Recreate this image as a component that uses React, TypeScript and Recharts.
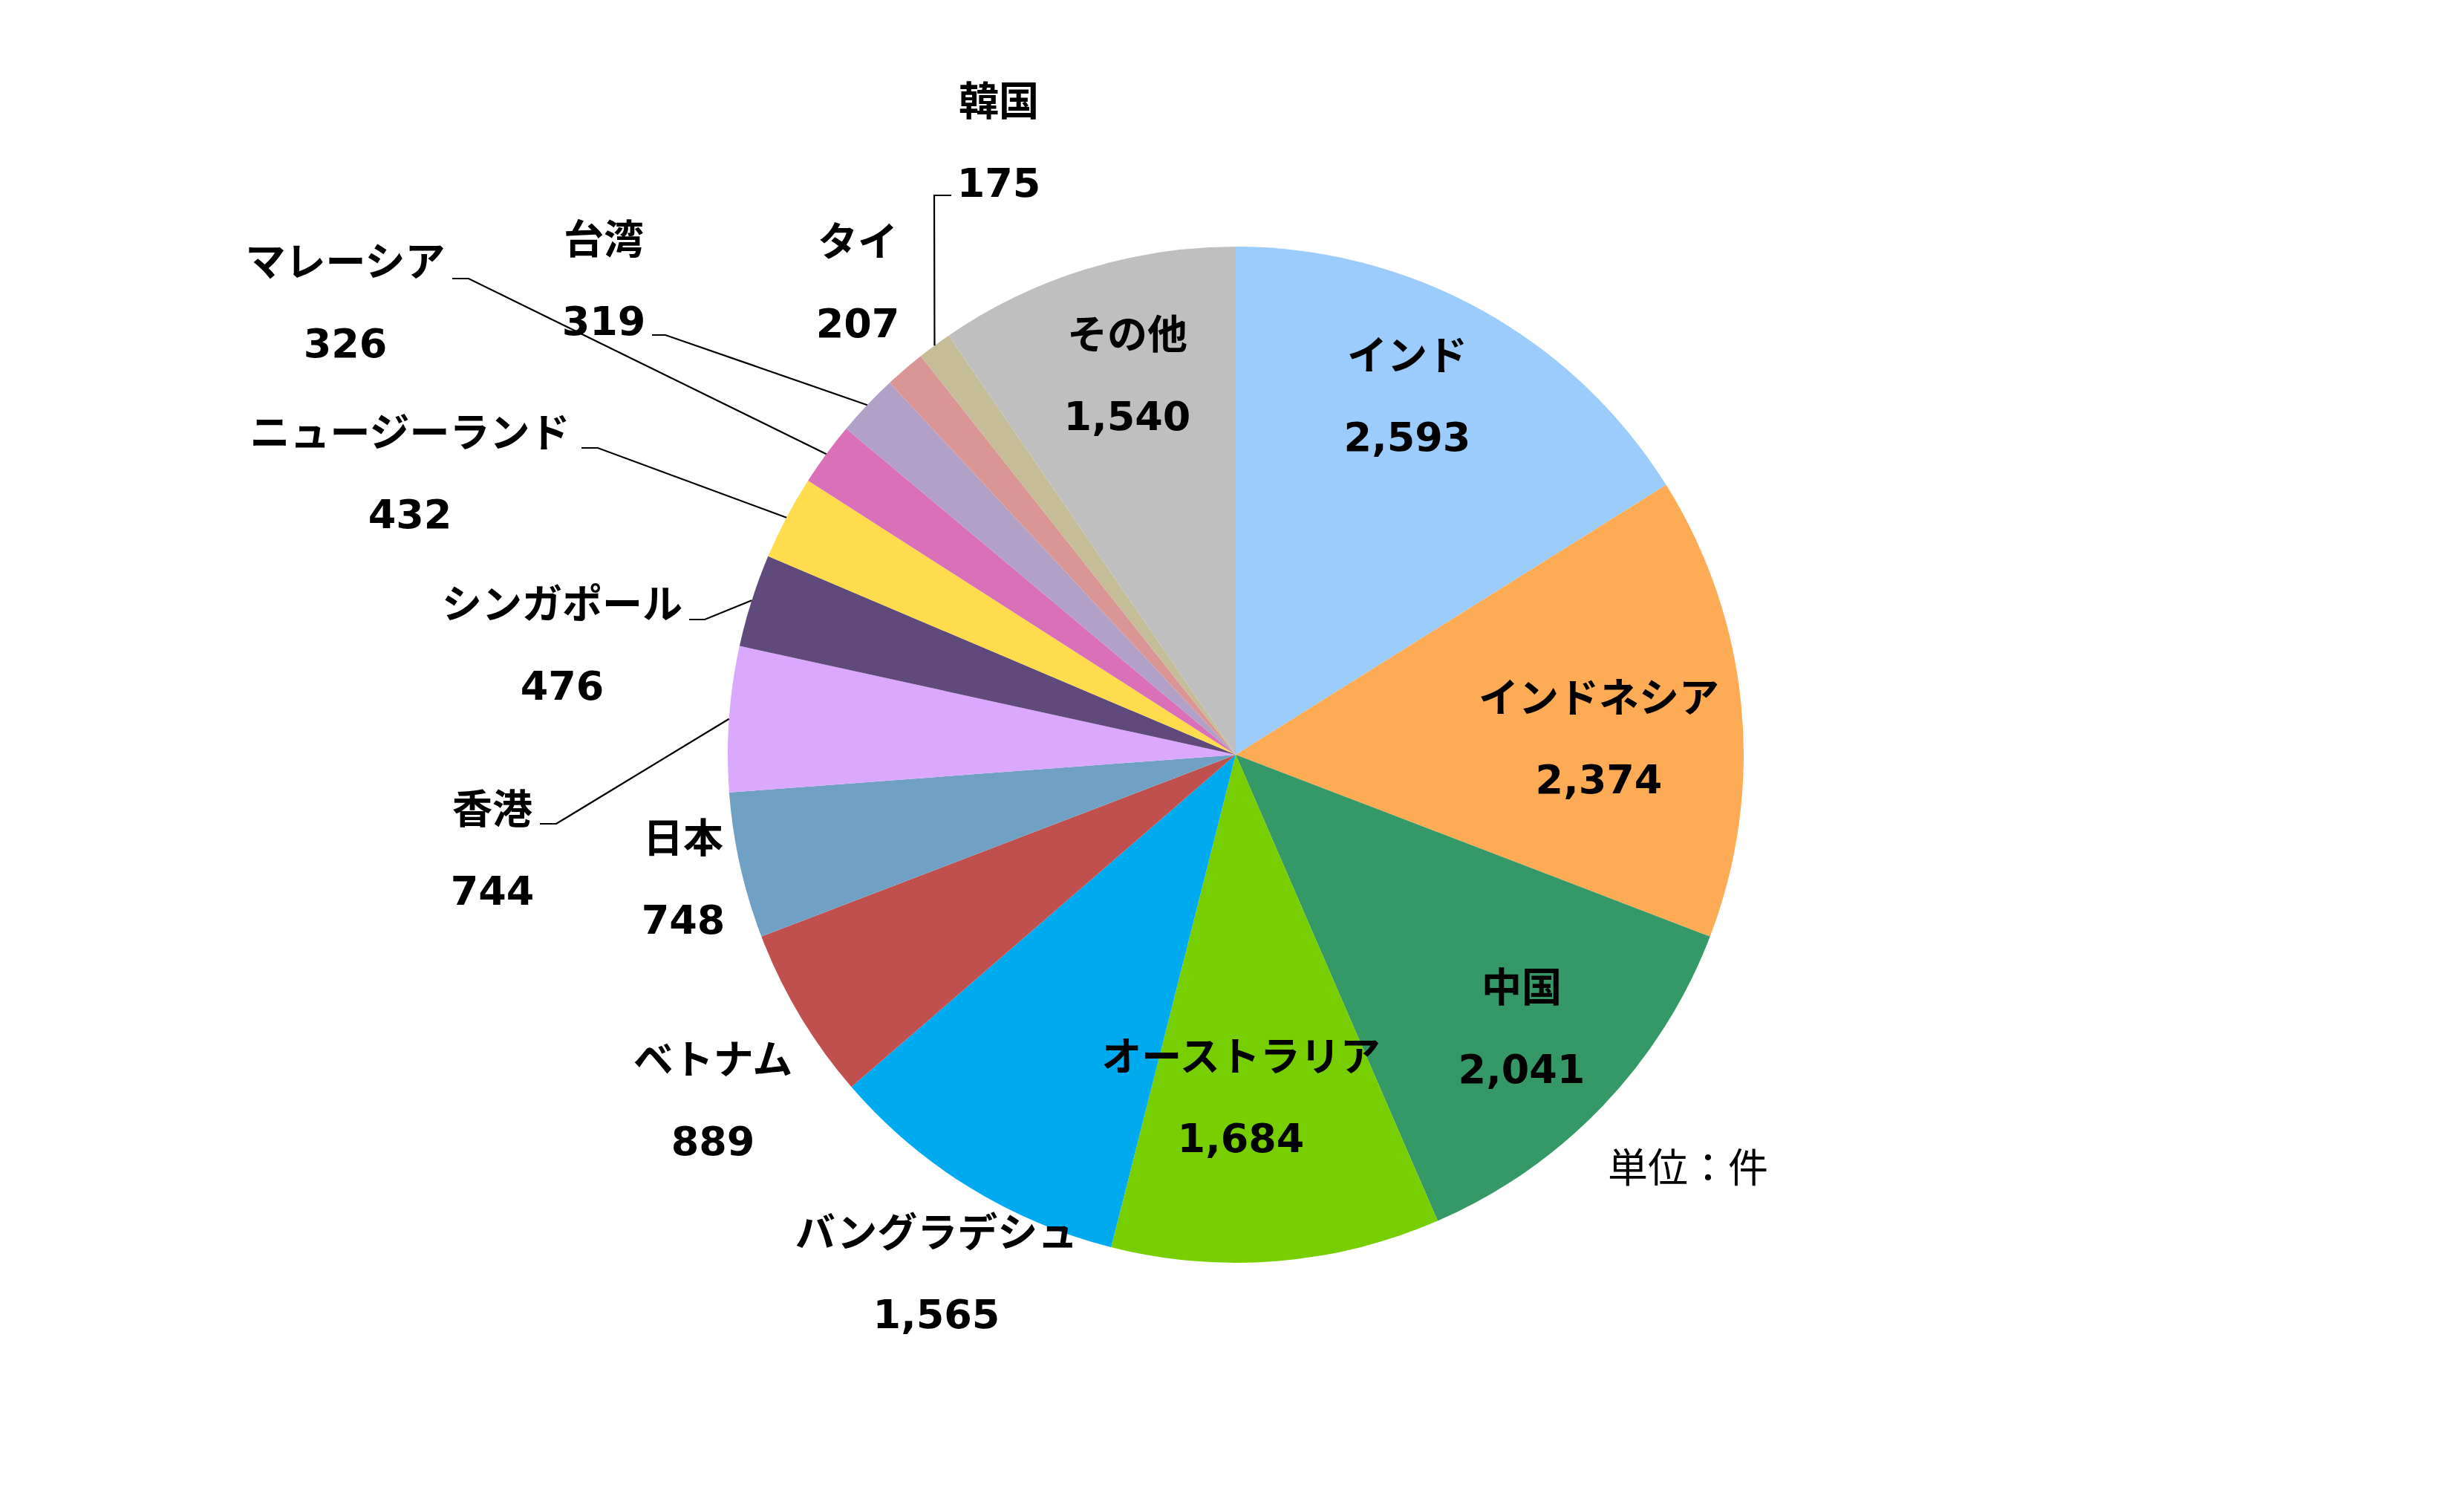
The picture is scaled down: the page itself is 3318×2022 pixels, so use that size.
import { PieChart, Pie, Cell } from 'recharts';

// 国・地域別の件数（時計回り、12時の位置から）
const countries = [
  'インド',
  'インドネシア',
  '中国',
  'オーストラリア',
  'バングラデシュ',
  'ベトナム',
  '日本',
  '香港',
  'シンガポール',
  'ニュージーランド',
  'マレーシア',
  '台湾',
  'タイ',
  '韓国',
  'その他',
];
const counts = [2593, 2374, 2041, 1684, 1565, 889, 748, 744, 476, 432, 326, 319, 207, 175, 1540];
const unitLabel = '単位：件';

const colors = [
  '#9CCCFC',
  '#FEAB56',
  '#349966',
  '#77CE00',
  '#00AAEE',
  '#C0504E',
  '#70A1C4',
  '#DAA8FD',
  '#604A7B',
  '#FEDC4E',
  '#D970B8',
  '#B1A1C7',
  '#D99695',
  '#C4BD97',
  '#BFBFBF',
];

// layout: label (name line) centre relative to the pie centre
const labelOffsets = [
  [231, -537],
  [489, -76],
  [385, 314],
  [7, 407],
  [-403, 644],
  [-704, 411],
  [-744, 113],
  [-1001, 74],
  [-907, -202],
  [-1112, -433],
  [-1199, -663],
  [-851, -693],
  [-509, -690],
  [-319, -879],
  [-146, -565],
];

// leader lines: [startDx, startDy, elbowDx] relative to the label centre, then to the slice edge
const leaders: (number[] | null)[] = [
  null, // インド
  null, // インドネシア
  null, // 中国
  null, // オーストラリア
  null, // バングラデシュ
  null, // ベトナム
  null, // 日本
  [64, 19, 86], // 香港
  [171, 20, 192], // シンガポール
  [231, 20, 253], // ニュージーランド
  [144, 22, 166], // マレーシア
  [65, 128, 83], // 台湾
  null, // タイ
  [-64, 126, -87], // 韓国
  null, // その他
];

const data = countries.map((name, i) => ({ name, value: counts[i] }));

const W = 3318;
const H = 2022;
const CX = 1659;
const CY = 1011;
const R = 684;
const LINE_GAP = 109;
const FONT = "'DejaVu Sans', 'Noto Sans CJK JP', sans-serif";

const renderLabel = (props: any) => {
  const { midAngle, outerRadius, index } = props;
  const cx = Number(props.cx);
  const cy = Number(props.cy);
  const [dx, dy] = labelOffsets[index];
  const x = cx + dx;
  const y = cy + dy;
  const leader = leaders[index];
  let line = null;
  if (leader) {
    const rad = Math.PI / 180;
    const ex = cx + outerRadius * Math.cos(-midAngle * rad);
    const ey = cy + outerRadius * Math.sin(-midAngle * rad);
    line = (
      <polyline
        points={`${x + leader[0]},${y + leader[1]} ${x + leader[2]},${y + leader[1]} ${ex},${ey}`}
        fill="none"
        stroke="#000"
        strokeWidth={2.2}
      />
    );
  }
  const textProps = {
    textAnchor: 'middle' as const,
    dominantBaseline: 'central' as const,
    fontFamily: FONT,
    fontWeight: 'bold',
    fontSize: 54,
    fill: '#000',
  };
  return (
    <g key={`lbl-${index}`}>
      {line}
      <text x={x} y={y} {...textProps}>
        {countries[index]}
      </text>
      <text x={x} y={y + LINE_GAP} {...textProps}>
        {counts[index].toLocaleString('en-US')}
      </text>
    </g>
  );
};

export default function App() {
  return (
    <div style={{ position: 'absolute', left: 0, top: 0, width: W, height: H, background: '#fff', overflow: 'hidden' }}>
      <PieChart width={W} height={H}>
        <Pie
          data={data}
          dataKey="value"
          nameKey="name"
          cx={CX}
          cy={CY}
          outerRadius={R}
          startAngle={90}
          endAngle={-270}
          stroke="none"
          label={renderLabel}
          labelLine={false}
          isAnimationActive={false}
        >
          {data.map((d, i) => (
            <Cell key={d.name} fill={colors[i]} />
          ))}
        </Pie>
      </PieChart>
      <div
        style={{
          position: 'absolute',
          left: 2273,
          top: 1574,
          transform: 'translate(-50%, -50%)',
          fontFamily: FONT,
          fontSize: 54,
          lineHeight: 1,
          whiteSpace: 'nowrap',
          color: '#000',
        }}
      >
        {unitLabel}
      </div>
    </div>
  );
}
